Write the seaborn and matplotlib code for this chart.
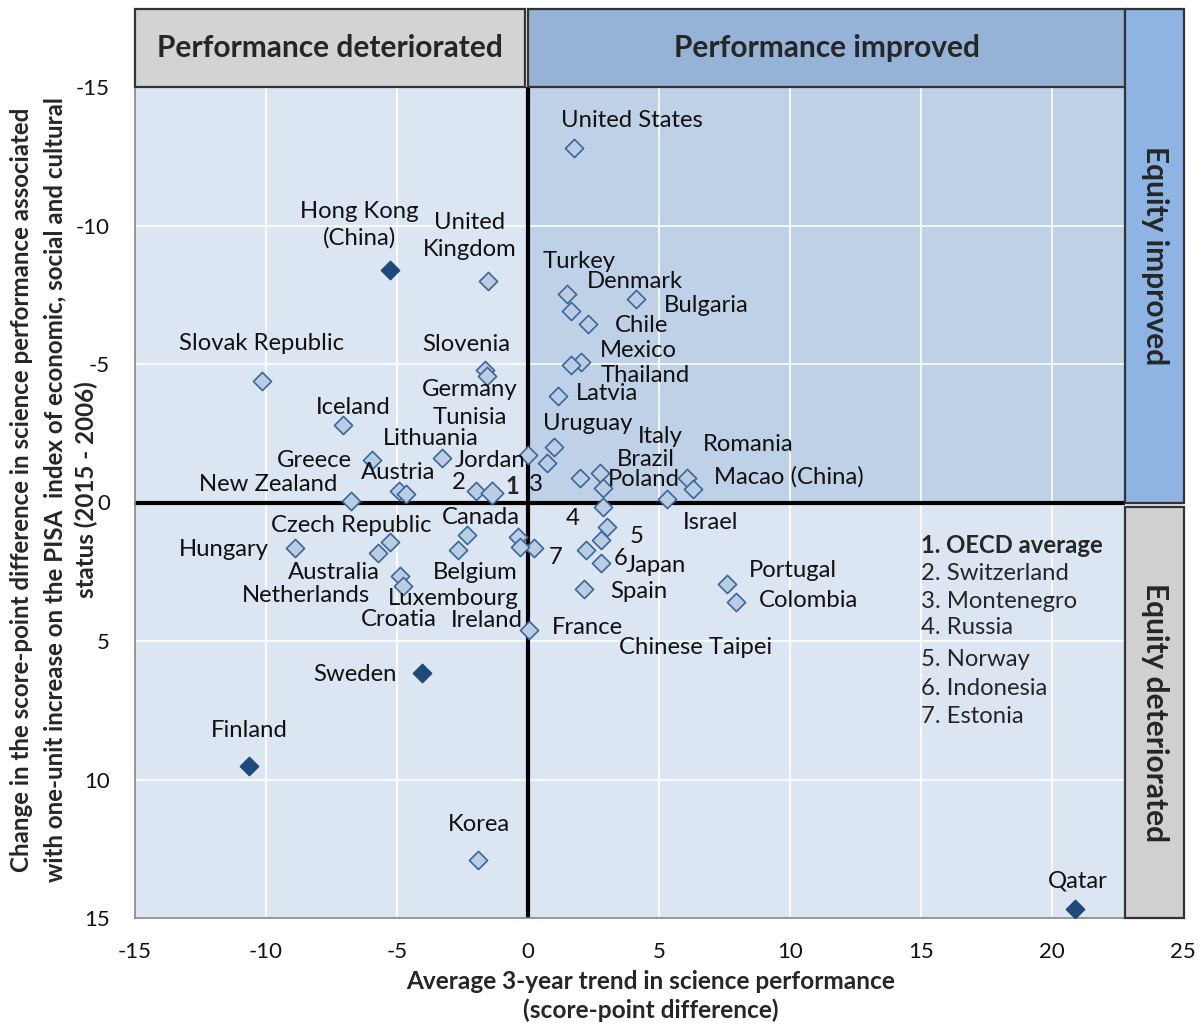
import matplotlib
matplotlib.use("Agg")
import matplotlib.pyplot as plt
import seaborn as sns
import pandas as pd
from matplotlib.patches import Rectangle

# ---------------- data ----------------
countries = ["United States", "Hong Kong (China)", "United Kingdom", "Turkey", "Denmark",
             "Bulgaria", "Chile", "Mexico", "Thailand", "Latvia", "Slovak Republic",
             "Slovenia", "Germany", "Iceland", "Greece", "Lithuania", "Austria", "Croatia",
             "New Zealand", "Switzerland", "OECD average", "Jordan", "Uruguay", "Tunisia",
             "Brazil", "Italy", "Poland", "Romania", "Macao (China)", "Israel", "Russia",
             "Norway", "Japan", "Indonesia", "Chinese Taipei", "Spain", "Portugal",
             "Colombia", "France", "Estonia", "Montenegro", "Ireland", "Hungary",
             "Czech Republic", "Australia", "Canada", "Belgium", "Netherlands",
             "Luxembourg", "Sweden", "Finland", "Korea", "Qatar"]
trend = [1.74, -5.25, -1.51, 1.49, 1.64,
         4.12, 2.29, 2.04, 1.66, 1.13, -10.17,
         -1.66, -1.55, -7.05, -5.94, -3.27, -4.94, -4.64,
         -6.74, -1.97, -1.39, 0.0, 1.01, 0.74,
         2.00, 2.73, 2.88, 6.05, 6.28, 5.32, 2.88,
         3.03, 2.77, 2.20, 2.80, 2.12, 7.58,
         7.93, 0.02, 0.21, -0.39, -0.32, -8.91,
         -5.25, -5.74, -2.34, -2.68, -4.90,
         -4.78, -4.03, -10.63, -1.89, 20.86]
equity = [-12.78, -8.41, -7.98, -7.51, -6.93,
          -7.36, -6.46, -5.09, -4.98, -3.83, -4.40,
          -4.80, -4.58, -2.78, -1.55, -1.59, -0.43, -0.32,
          -0.04, -0.40, -0.36, -1.70, -2.02, -1.44,
          -0.87, -1.08, -0.51, -0.90, -0.47, -0.14, 0.18,
          0.87, 1.37, 1.73, 2.20, 3.14, 2.96,
          3.61, 4.60, 1.66, 1.23, 1.62, 1.64,
          1.41, 1.81, 1.19, 1.73, 2.67,
          3.03, 6.14, 9.53, 12.92, 14.66]
significant = ["Hong Kong (China)", "Sweden", "Finland", "Qatar"]

x_ticks = [-15, -10, -5, 0, 5, 10, 15, 20, 25]
y_ticks = [-15, -10, -5, 0, 5, 10, 15]

legend_lines = ["1. OECD average", "2. Switzerland", "3. Montenegro", "4. Russia",
                "5. Norway", "6. Indonesia", "7. Estonia"]

ylabel_lines = ["Change in the score-point difference in science performance associated",
                "with one-unit increase on the PISA  index of economic, social and cultural",
                "status (2015 - 2006)"]

# label texts with their placement (layout, in data units)
label_layout = [
    ("United States", 3.95, -13.79), ("Hong Kong\n(China)", -6.43, -10.04),
    ("United\nKingdom", -2.23, -9.62), ("Turkey", 1.97, -8.70), ("Denmark", 4.07, -7.98),
    ("Bulgaria", 6.81, -7.11), ("Chile", 4.33, -6.39), ("Mexico", 4.22, -5.49),
    ("Thailand", 4.48, -4.58), ("Latvia", 3.03, -3.93), ("Slovak Republic", -10.17, -5.74),
    ("Slovenia", -2.35, -5.70), ("Germany", -2.23, -4.08), ("Iceland", -6.66, -3.43),
    ("Tunisia", -2.23, -3.08), ("Lithuania", -3.72, -2.32), ("Uruguay", 2.27, -2.85),
    ("Italy", 5.06, -2.38), ("Romania", 8.42, -2.09), ("Greece", -8.15, -1.52),
    ("Jordan", -1.43, -1.52), ("Brazil", 4.48, -1.55), ("Austria", -4.94, -1.08),
    ("Poland", 4.41, -0.83), ("Macao (China)", 9.94, -0.94), ("New Zealand", -9.9, -0.65),
    ("2", -2.65, -0.72), ("3", 0.29, -0.65), ("Israel", 6.97, 0.72),
    ("Czech Republic", -6.74, 0.83), ("Canada", -1.78, 0.54), ("4", 1.70, 0.58),
    ("Hungary", -11.62, 1.70), ("5", 4.14, 1.23), ("7", 1.05, 1.99), ("6", 3.53, 2.02),
    ("Japan", 4.9, 2.27), ("Australia", -7.42, 2.53), ("Belgium", -2.0, 2.53),
    ("Portugal", 10.13, 2.45), ("Netherlands", -8.49, 3.36), ("Luxembourg", -2.84, 3.48),
    ("Spain", 4.22, 3.21), ("Colombia", 10.7, 3.54), ("Croatia", -4.94, 4.22),
    ("Ireland", -1.58, 4.26), ("France", 2.27, 4.51), ("Chinese Taipei", 6.39, 5.23),
    ("Sweden", -6.62, 6.21), ("Finland", -10.63, 8.23), ("Korea", -1.89, 11.62),
    ("Qatar", 20.97, 13.68),
]

# ---------------- style ----------------
sns.set_style("white")
plt.rcParams["font.family"] = ["Lato", "DejaVu Sans"]

df = pd.DataFrame({"country": countries, "trend": trend, "equity": equity})
df["group"] = "other"
df.loc[df["country"].isin(significant), "group"] = "sig"
df.loc[df["country"] == "OECD average", "group"] = "oecd"

fig = plt.figure(figsize=(12.02, 10.25), dpi=100)
ax = fig.add_axes([135 / 1202, 1 - 918 / 1025, 1048 / 1202, 831 / 1025])

XMIN, XMAX, YMIN, YMAX = -15, 25, -15, 15
PLOT_RIGHT = 22.8
ax.set_xlim(XMIN, XMAX)
ax.set_ylim(YMAX, YMIN)  # inverted
ax.set_facecolor("#dce6f2")

# darker upper-right quadrant
ax.add_patch(Rectangle((0, YMIN), PLOT_RIGHT, -YMIN, facecolor="#bfd1e7", edgecolor="none", zorder=0))

# grid lines
for gx in [-10, -5, 5, 10, 15, 20]:
    ax.axvline(gx, color="white", lw=1.2, zorder=1)
for gy in [-10, -5, 5, 10]:
    ax.axhline(gy, color="white", lw=1.2, zorder=1)

# thick zero lines
ax.plot([0, 0], [YMIN, YMAX], color="black", lw=3, zorder=2, solid_capstyle="butt")
ax.plot([XMIN, PLOT_RIGHT], [0, 0], color="black", lw=3, zorder=2, solid_capstyle="butt")

# scatter
light = df[df["group"] == "other"]
dark = df[df["group"] == "sig"]
oecd = df[df["group"] == "oecd"]
sns.scatterplot(data=light, x="trend", y="equity", marker="D", s=85, color="#b9cde5",
                edgecolor="#3a6699", linewidth=1.2, ax=ax, zorder=3, legend=False)
sns.scatterplot(data=oecd, x="trend", y="equity", marker="D", s=130, color="#b9cde5",
                edgecolor="#3a6699", linewidth=1.2, ax=ax, zorder=3, legend=False)
sns.scatterplot(data=dark, x="trend", y="equity", marker="D", s=85, color="#1f497d",
                edgecolor="#1f497d", linewidth=1.2, ax=ax, zorder=3, legend=False)

# labels
LFS = 17.2
for txt, lx, ly in label_layout:
    ax.text(lx, ly, txt, ha="center", va="center", fontsize=LFS, color="#111111",
            linespacing=1.3, zorder=4)
ax.text(-0.59, -0.58, "1", ha="center", va="center", fontsize=LFS, fontweight="bold", zorder=4)

# numbered legend
leg_y = [1.55, 2.56, 3.57, 4.51, 5.67, 6.71, 7.73]
for i, (t, yy) in enumerate(zip(legend_lines, leg_y)):
    ax.text(15.0, yy, t, ha="left", va="center", fontsize=LFS,
            fontweight="bold" if i == 0 else "normal", zorder=4)

# header boxes
HTOP = -17.8
ax.add_patch(Rectangle((XMIN, HTOP), 14.9, HTOP * -1 + YMIN, facecolor="#d3d3d3",
                       edgecolor="#333333", lw=1.6, clip_on=False, zorder=5))
ax.add_patch(Rectangle((0, HTOP), PLOT_RIGHT, HTOP * -1 + YMIN, facecolor="#95b3d7",
                       edgecolor="#333333", lw=1.6, clip_on=False, zorder=5))
HFS = 21.5
ax.text(-7.55, -16.4, "Performance deteriorated", ha="center", va="center",
        fontsize=HFS, fontweight="bold", zorder=6, clip_on=False)
ax.text(11.4, -16.4, "Performance improved", ha="center", va="center",
        fontsize=HFS, fontweight="bold", zorder=6, clip_on=False)

# right bands
ax.add_patch(Rectangle((PLOT_RIGHT, HTOP), 25.05 - PLOT_RIGHT, -HTOP, facecolor="#8db4e2",
                       edgecolor="#333333", lw=1.6, clip_on=False, zorder=5))
ax.add_patch(Rectangle((PLOT_RIGHT, 0.15), 25.05 - PLOT_RIGHT, 15 - 0.15, facecolor="#d0d0d0",
                       edgecolor="#333333", lw=1.6, clip_on=False, zorder=5))
ax.text(23.95, -8.9, "Equity improved", ha="center", va="center", rotation=-90,
        fontsize=HFS, fontweight="bold", zorder=6, clip_on=False)
ax.text(23.95, 7.57, "Equity deteriorated", ha="center", va="center", rotation=-90,
        fontsize=HFS, fontweight="bold", zorder=6, clip_on=False)

# axes styling
ax.set_xticks(x_ticks)
ax.set_yticks(y_ticks)
ax.set_xticklabels([str(v) for v in x_ticks])
ax.set_yticklabels([str(v) for v in y_ticks])
ax.tick_params(axis="both", length=0, labelsize=16, colors="#111111")
ax.tick_params(axis="x", pad=17)
ax.tick_params(axis="y", pad=18)
ax.set_xlabel("")
ax.set_ylabel("")
for side in ["top", "right"]:
    ax.spines[side].set_visible(False)
for side in ["left", "bottom"]:
    ax.spines[side].set_color("#888888")
    ax.spines[side].set_linewidth(1.2)

fig.text(651 / 1202, 1 - 996 / 1025,
         "Average 3-year trend in science performance\n(score-point difference)",
         ha="center", va="center", fontsize=17.6, fontweight="bold", linespacing=1.3)
for xpix, line in zip([22, 55, 86], ylabel_lines):
    fig.text(xpix / 1202, 1 - 490 / 1025, line, ha="center", va="center", rotation=90,
             fontsize=17.4, fontweight="bold")

fig.savefig("out.png", dpi=100)
